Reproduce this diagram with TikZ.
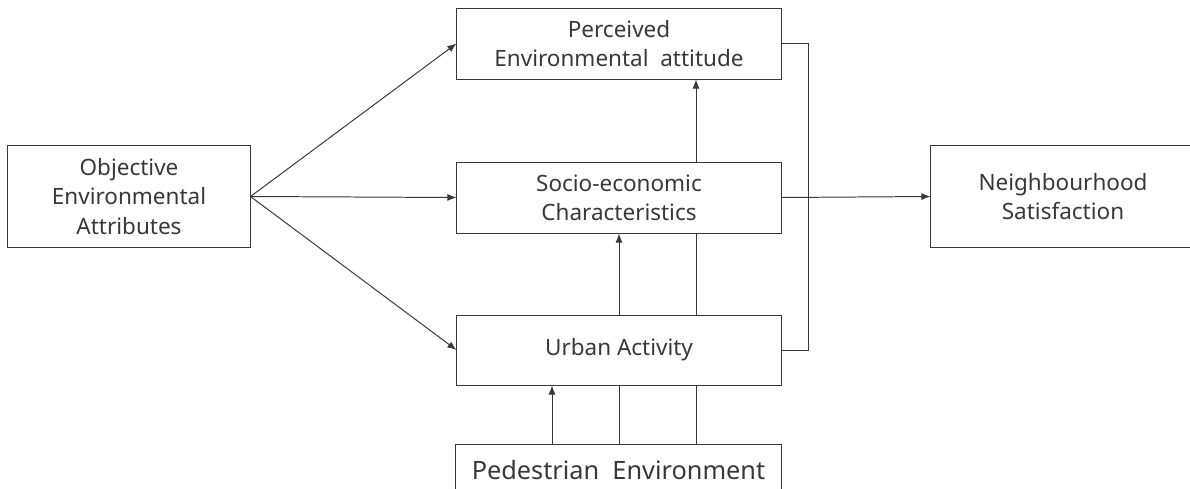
\documentclass[tikz,border=0pt]{standalone}
\usepackage{fontspec}
\setmainfont{Noto Sans}
\usetikzlibrary{arrows.meta}
\definecolor{ink}{HTML}{383838}
\begin{document}
\begin{tikzpicture}[x=0.025cm,y=-0.025cm,
	box/.style={draw=ink,line width=0.7pt,text=ink,align=center,inner sep=0pt,
		font=\fontsize{16}{20.8}\selectfont},
	link/.style={draw=ink,line width=0.7pt},
	arr/.style={link,-{Latex[length=6.5pt,width=5pt]}}]
	\useasboundingbox (0,0) rectangle (1190,488);
	\clip (0,0) rectangle (1190,488);
	
	\node[box,minimum width=8.1cm,minimum height=1.775cm] (perc) at (619,43.5) {Perceived\\Environmental\ \ attitude};
	\node[box,minimum width=8.1cm,minimum height=1.775cm] (soc) at (619,197.5) {Socio-economic\\Characteristics};
	\node[box,minimum width=8.1cm,minimum height=1.75cm] (urb) at (619,350) {Urban Activity};
	\node[box,minimum width=8.125cm,minimum height=1.3cm,font=\fontsize{18}{22}\selectfont] (ped) at (618.5,470) {Pedestrian\ \ Environment};
	\node[box,minimum width=6.05cm,minimum height=2.525cm] (obj) at (129,196.5) {Objective\\Environmental\\Attributes};
	\node[box,minimum width=6.6cm,minimum height=2.525cm] (nbh) at (1063,196.5) {Neighbourhood\\Satisfaction};
	\coordinate (bus) at (808,197);
	
	\draw[arr] (obj.east) -- (perc.west);
	\draw[arr] (obj.east) -- (soc.west);
	\draw[arr] (obj.east) -- (urb.west);
	
	\draw[link] (perc.east) -| (bus) |- (urb.east);
	\draw[arr] (soc.east) -- (nbh.west);
	
	\draw[arr] (ped.north -| 552,0) -- (urb.south -| 552,0);
	\draw[link] (ped.north -| 619,0) -- (urb.south -| 619,0);
	\draw[arr] (urb.north -| 619,0) -- (soc.south -| 619,0);
	\draw[link] (ped.north -| 696,0) -- (urb.south -| 696,0);
	\draw[link] (urb.north -| 696,0) -- (soc.south -| 696,0);
	\draw[arr] (soc.north -| 696,0) -- (perc.south -| 696,0);
\end{tikzpicture}
\end{document}
